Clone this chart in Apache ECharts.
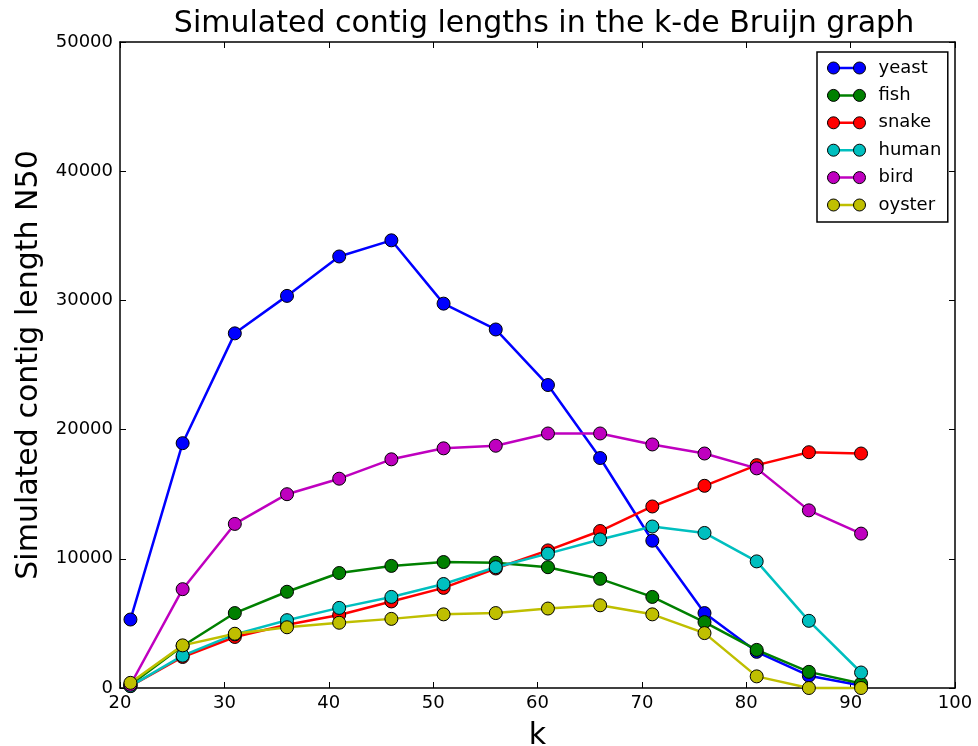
<!DOCTYPE html>
<html><head><meta charset="utf-8">
<script src="https://cdn.jsdelivr.net/npm/echarts@6/dist/echarts.min.js"></script>
<style>html,body{margin:0;padding:0;background:#fff}#c{width:978px;height:746px}</style>
</head><body><div id="c"></div>
<script>
const kValues = [21,26,31,36,41,46,51,56,61,66,71,76,81,86,91];
const yeast  = [5300,18950,27450,30350,33400,34650,29750,27750,23450,17800,11400,5800,2800,950,200];
const fish   = [250,3250,5800,7450,8900,9450,9750,9700,9350,8450,7050,5100,2950,1250,350];
const snake  = [150,2400,3950,4900,5650,6700,7750,9250,10650,12150,14050,15650,17250,18250,18150];
const human  = [150,2500,4150,5250,6200,7050,8050,9350,10400,11500,12500,12000,9800,5200,1200];
const bird   = [250,7650,12700,15000,16200,17700,18550,18750,19700,19700,18850,18150,17000,13750,11950];
const oyster = [400,3300,4200,4700,5050,5350,5700,5800,6150,6400,5700,4250,900,0,0];
const seriesNames = ['yeast','fish','snake','human','bird','oyster'];
const seriesData = [yeast, fish, snake, human, bird, oyster];
const colors = ['#0000ff','#008000','#ff0000','#00bfbf','#bf00bf','#bfbf00'];

const font = 'DejaVu Sans';
const chart = echarts.init(document.getElementById('c'));
const axisCommon = {
  axisLine:{show:true,onZero:false,lineStyle:{color:'#000',width:1.5}},
  axisTick:{show:true,inside:true,length:6,lineStyle:{color:'#000',width:1}},
  splitLine:{show:false}
};
const circlesIcon = 'path://M0,6a6,6 0 1,0 12,0a6,6 0 1,0 -12,0ZM26,6a6,6 0 1,0 12,0a6,6 0 1,0 -12,0Z';
const legendBase = {
  orient:'vertical',left:817,top:52,
  padding:[7,7,8,10],
  itemGap:9.4,
  itemWidth:38,
  data: seriesNames
};
chart.setOption({
  animation:false,
  backgroundColor:'#fff',
  color: colors,
  title:{text:'Simulated contig lengths in the k-de Bruijn graph',left:539,textAlign:'center',top:4,
    textStyle:{fontFamily:font,fontSize:30,fontWeight:'normal',color:'#000'}},
  grid:{left:120,right:23,top:42,bottom:58,containLabel:false,outerBoundsMode:'none'},
  legend:[
    Object.assign({}, legendBase, {
      z:4, itemHeight:2.5, icon:'rect',
      itemStyle:{borderWidth:0},
      borderColor:'#000',borderWidth:1.5,backgroundColor:'#fff',
      textStyle:{fontFamily:font,fontSize:18,lineHeight:16,color:'rgba(0,0,0,0)',padding:[0,0,0,8]}
    }),
    Object.assign({}, legendBase, {
      z:6, itemHeight:12, icon:circlesIcon,
      itemStyle:{borderColor:'#000',borderWidth:1},
      borderWidth:0,backgroundColor:'rgba(0,0,0,0)',
      textStyle:{fontFamily:font,fontSize:18,lineHeight:16,color:'#000',padding:[0,0,0,8]}
    })
  ],
  xAxis:[
    Object.assign({type:'value',min:20,max:100,interval:10,position:'bottom',
      name:'k',nameLocation:'middle',nameGap:33,
      nameTextStyle:{fontFamily:font,fontSize:30,color:'#000'},
      axisLabel:{fontFamily:font,fontSize:18,color:'#000',margin:6}}, axisCommon),
    Object.assign({type:'value',min:20,max:100,interval:10,position:'top',
      axisLabel:{show:false}}, axisCommon)
  ],
  yAxis:[
    Object.assign({type:'value',min:0,max:50000,interval:10000,position:'left',
      name:'Simulated contig length N50',nameLocation:'middle',nameGap:76,
      nameTextStyle:{fontFamily:font,fontSize:30,color:'#000'},
      axisLabel:{fontFamily:font,fontSize:18,color:'#000',margin:7,formatter:v=>String(v)}}, axisCommon),
    Object.assign({type:'value',min:0,max:50000,interval:10000,position:'right',
      axisLabel:{show:false}}, axisCommon)
  ],
  series: seriesNames.map((n,i)=>({
    name:n,type:'line',
    data:kValues.map((k,j)=>[k,seriesData[i][j]]),
    symbol:'circle',symbolSize:13,
    lineStyle:{width:2.5,color:colors[i]},
    itemStyle:{color:colors[i],borderColor:'#000',borderWidth:1},
    clip:false
  }))
});
</script></body></html>
